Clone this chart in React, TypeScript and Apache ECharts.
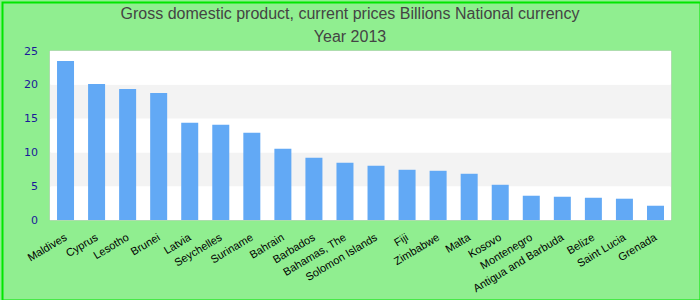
import React, { useEffect, useRef } from "react";
import * as echarts from "echarts";

const categories = [
  "Maldives", "Cyprus", "Lesotho", "Brunei", "Latvia", "Seychelles", "Suriname",
  "Bahrain", "Barbados", "Bahamas, The", "Solomon Islands", "Fiji", "Zimbabwe",
  "Malta", "Kosovo", "Montenegro", "Antigua and Barbuda", "Belize", "Saint Lucia", "Grenada",
];
const values = [
  23.53, 20.13, 19.39, 18.8, 14.37, 14.08, 12.9, 10.53, 9.2, 8.46, 8.02, 7.43, 7.28,
  6.84, 5.21, 3.59, 3.44, 3.29, 3.15, 2.11,
];
const titleLines = ["Gross domestic product, current prices Billions National currency", "Year 2013"];

export default function App() {
  const ref = useRef<HTMLDivElement>(null);
  useEffect(() => {
    document.body.style.margin = "0";
    const chart = echarts.init(ref.current!, null, { renderer: "svg" });
    chart.setOption({
      animation: false,
      backgroundColor: "#90ee90",
      title: {
        text: titleLines.join("\n"),
        left: "center",
        top: 2,
        padding: 0,
        textStyle: {
          fontFamily: "Liberation Sans, Arial",
          fontSize: 16,
          fontWeight: "normal",
          color: "#444444",
          lineHeight: 23,
        },
      },
      graphic: [
        {
          type: "rect",
          left: 0,
          top: 0,
          shape: { x: 1, y: 1, width: 698, height: 298 },
          style: { fill: "none", stroke: "#00e600", lineWidth: 2 },
          silent: true,
        },
      ],
      grid: { left: 50, right: 29, top: 51, bottom: 80, show: true, borderColor: "#cccccc", borderWidth: 1, backgroundColor: "#ffffff" },
      xAxis: {
        type: "category",
        data: categories,
        axisLine: { show: false },
        axisTick: { show: false },
        axisLabel: {
          interval: 0,
          rotate: 31,
          margin: 16,
          fontFamily: "Liberation Sans, Arial",
          fontSize: 11,
          color: "#000000",
        },
      },
      yAxis: {
        type: "value",
        min: 0,
        max: 25,
        interval: 5,
        axisLine: { show: false },
        axisTick: { show: false },
        splitLine: { show: false },
        splitArea: { show: true, areaStyle: { color: ["#ffffff", "#f3f3f3"] } },
        axisLabel: {
          margin: 12,
          fontFamily: "DejaVu Sans",
          fontSize: 11,
          color: "#1a1a99",
        },
      },
      series: [
        {
          type: "bar",
          data: values,
          barWidth: 17,
          itemStyle: { color: "#62a9f5" },
        },
      ],
    });
    return () => chart.dispose();
  }, []);
  return <div ref={ref} style={{ width: 700, height: 300 }} />;
}
